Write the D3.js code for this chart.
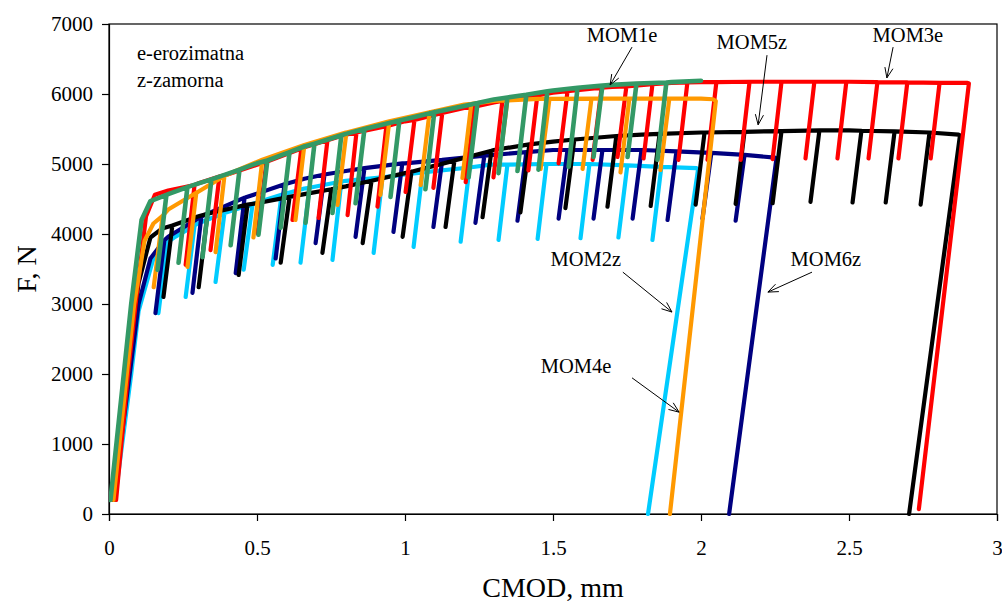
<!DOCTYPE html>
<html><head><meta charset="utf-8">
<script src="https://cdn.jsdelivr.net/npm/d3@7"></script>
<style>
body{margin:0;background:#fff;}
svg{display:block;}
text{font-family:"Liberation Serif","Times New Roman",serif;fill:#000;}
</style>
</head><body>
<svg id="chart" width="1002" height="603"></svg>
<script>
// ---------- data ----------
const xTicks = [0, 0.5, 1, 1.5, 2, 2.5, 3];
const yTicks = [0, 1000, 2000, 3000, 4000, 5000, 6000, 7000];
const xTitle = "CMOD, mm";
const yTitle = "F, N";
const legendLines = ["e-erozimatna", "z-zamorna"];

// envelope points [CMOD, F]
const mom2zEnvelope = [[0.02,200],[0.075,2000],[0.1,2900],[0.15,3650],[0.22,3950],[0.3,4150],[0.5,4450],[0.66,4650],[0.8,4760],[1.0,4850],[1.29,4990],[1.6,5000],[1.985,4940]];
// cycles [CMOD top, F top, CMOD bottom, F bottom]
const mom2zCycles = [[0.197,3880,0.167,2870],[0.289,4120,0.259,3100],[0.390,4300,0.360,3315],[0.485,4430,0.455,3490],[0.583,4560,0.553,3560],[0.677,4660,0.647,3590],[0.785,4750,0.755,3630],[0.924,4810,0.894,3730],[1.059,4880,1.029,3815],[1.218,4950,1.188,3890],[1.346,4990,1.316,3915],[1.478,5000,1.448,3930],[1.623,5000,1.593,3940],[1.751,4980,1.721,3950],[1.866,4960,1.836,3915]];
const mom2zFinal = [[1.99,4920],[1.821,0]];

const mom6zEnvelope = [[0.015,200],[0.07,2000],[0.1,3000],[0.14,3650],[0.2,3960],[0.3,4220],[0.46,4520],[0.66,4790],[0.8,4900],[1.0,5010],[1.3,5130],[1.5,5200],[1.8,5200],[2.03,5160],[2.25,5090]];
const mom6zCycles = [[0.187,3910,0.157,2870],[0.312,4250,0.282,3160],[0.458,4520,0.428,3440],[0.593,4710,0.563,3650],[0.728,4850,0.698,3870],[0.863,4940,0.833,3960],[0.991,5010,0.961,4030],[1.126,5060,1.096,4100],[1.268,5120,1.238,4160],[1.410,5170,1.380,4190],[1.549,5200,1.519,4220],[1.667,5200,1.637,4220],[1.799,5200,1.769,4220],[1.917,5180,1.887,4200],[2.035,5160,2.005,4220],[2.147,5130,2.117,4190]];
const mom6zFinal = [[2.255,5080],[2.095,0]];

const mom5zEnvelope = [[0.015,200],[0.06,2000],[0.1,3300],[0.14,3950],[0.18,4080],[0.3,4250],[0.5,4440],[0.66,4570],[0.8,4680],[1.0,4870],[1.15,5030],[1.3,5200],[1.5,5320],[1.8,5420],[2.0,5450],[2.5,5480],[2.87,5420]];
const mom5zCycles = [[0.214,4120,0.184,3100],[0.333,4290,0.303,3240],[0.468,4420,0.438,3415],[0.610,4530,0.580,3590],[0.751,4640,0.721,3730],[0.887,4760,0.857,3870],[1.022,4890,0.992,3960],[1.167,5050,1.137,4100],[1.292,5190,1.262,4240],[1.420,5280,1.390,4310],[1.572,5350,1.542,4370],[1.714,5400,1.684,4390],[1.860,5430,1.830,4400],[2.012,5450,1.982,4420],[2.147,5460,2.117,4430],[2.272,5470,2.242,4440],[2.400,5480,2.370,4460],[2.542,5475,2.512,4450],[2.654,5465,2.624,4450],[2.772,5450,2.742,4420]];
const mom5zFinal = [[2.875,5410],[2.703,0]];

const mom3eEnvelope = [[0.024,200],[0.064,2000],[0.09,3000],[0.125,4250],[0.155,4560],[0.2,4620],[0.3,4720],[0.4,4850],[0.5,4990],[0.66,5240],[0.8,5420],[1.0,5610],[1.2,5800],[1.3,5880],[1.5,6020],[1.7,6100],[1.9,6160],[2.0,6170],[2.5,6175],[2.9,6160]];
const mom3eCycles = [[0.289,4700,0.259,3560],[0.373,4820,0.343,3770],[0.532,5030,0.502,4010],[0.650,5220,0.620,4200],[0.738,5340,0.708,4230],[0.836,5450,0.806,4270],[0.937,5540,0.907,4390],[1.032,5630,1.002,4600],[1.126,5730,1.096,4660],[1.235,5820,1.205,4740],[1.329,5900,1.299,4810],[1.447,5980,1.417,4910],[1.549,6040,1.519,5010],[1.664,6090,1.634,5060],[1.748,6110,1.718,5100],[1.836,6140,1.806,5080],[1.954,6165,1.924,5060],[2.052,6170,2.022,5060],[2.164,6175,2.134,5060],[2.272,6175,2.242,5070],[2.383,6175,2.353,5080],[2.491,6175,2.461,5080],[2.596,6170,2.566,5080],[2.697,6165,2.667,5080],[2.806,6160,2.776,5080]];
const mom3eFinal = [[2.905,6150],[2.736,70]];

const mom4eEnvelope = [[0.015,200],[0.06,2000],[0.085,3000],[0.12,3900],[0.15,4150],[0.2,4350],[0.3,4600],[0.4,4850],[0.5,5030],[0.66,5270],[0.8,5450],[1.0,5660],[1.2,5850],[1.3,5900],[1.45,5930],[2.0,5935],[2.04,5925]];
const mom4eCycles = [[0.181,4260,0.151,3240],[0.295,4590,0.265,3530],[0.390,4830,0.360,3740],[0.518,5060,0.488,3950],[0.660,5270,0.630,4200],[0.802,5450,0.772,4415],[0.947,5610,0.917,4560],[1.083,5740,1.053,4700],[1.224,5860,1.194,4800],[1.346,5910,1.316,4915],[1.488,5930,1.458,4930],[1.630,5935,1.600,4930],[1.758,5935,1.728,4880],[1.893,5935,1.863,4915]];
const mom4eFinal = [[2.05,5900],[1.895,0]];

const mom1eEnvelope = [[0.005,200],[0.05,2000],[0.075,3000],[0.11,4200],[0.14,4470],[0.2,4570],[0.3,4720],[0.4,4860],[0.5,5010],[0.66,5250],[0.8,5430],[1.0,5640],[1.2,5830],[1.3,5920],[1.5,6050],[1.7,6130],[1.9,6170],[2.0,6190]];
const mom1eCycles = [[0.194,4560,0.164,3490],[0.265,4670,0.235,3590],[0.346,4780,0.316,3670],[0.441,4920,0.411,3840],[0.535,5050,0.505,3990],[0.610,5170,0.580,4090],[0.694,5290,0.664,4160],[0.785,5410,0.755,4300],[0.863,5500,0.833,4440],[0.981,5620,0.951,4530],[1.099,5740,1.069,4640],[1.245,5870,1.215,4810],[1.346,5950,1.316,4870],[1.410,5990,1.380,4900],[1.481,6040,1.451,4920],[1.583,6090,1.553,4960],[1.667,6120,1.637,5100],[1.782,6150,1.752,5100],[1.883,6165,1.853,5060]];
const mom1eFinal = [];

// series in drawing order
const seriesNames = ["MOM2z","MOM6z","MOM5z","MOM3e","MOM4e","MOM1e"];
const seriesColors = ["#00ccff","#000080","#000000","#ff0000","#ff9900","#339966"];
const seriesEnvelopes = [mom2zEnvelope, mom6zEnvelope, mom5zEnvelope, mom3eEnvelope, mom4eEnvelope, mom1eEnvelope];
const seriesCycles = [mom2zCycles, mom6zCycles, mom5zCycles, mom3eCycles, mom4eCycles, mom1eCycles];
const seriesFinals = [mom2zFinal, mom6zFinal, mom5zFinal, mom3eFinal, mom4eFinal, mom1eFinal];

// annotations: label, text anchor [CMOD,F], arrow start, arrow tip
const annLabels = ["MOM1e","MOM5z","MOM3e","MOM2z","MOM6z","MOM4e"];
const annText = [[1.733,6745],[2.172,6645],[2.699,6745],[1.611,3545],[2.422,3545],[1.578,2015]];
const annFrom = [[1.767,6670],[2.223,6555],[2.649,6670],[1.736,3455],[2.375,3455],[1.767,1945]];
const annTo   = [[1.693,6130],[2.193,5560],[2.628,6230],[1.902,2885],[2.226,3170],[1.926,1455]];

// ---------- chart ----------
const svg = d3.select("#chart");
const x = d3.scaleLinear().domain([0,3]).range([109,997]);
const y = d3.scaleLinear().domain([0,7000]).range([514,24]);

// plot frame
svg.append("rect").attr("x",x(0)).attr("y",y(7000))
  .attr("width",x(3)-x(0)).attr("height",y(0)-y(7000))
  .attr("fill","none").attr("stroke","#000").attr("stroke-width",1.2);

const gx = svg.append("g").attr("transform",`translate(0,${y(0)})`)
  .call(d3.axisBottom(x).tickValues(xTicks).tickSize(7).tickPadding(19).tickFormat(d3.format("")));
const gy = svg.append("g").attr("transform",`translate(${x(0)},0)`)
  .call(d3.axisLeft(y).tickValues(yTicks).tickSize(7).tickPadding(9).tickFormat(d3.format("d")));
[gx,gy].forEach(g=>{
  g.select(".domain").attr("stroke","#000").attr("stroke-width",1.2);
  g.selectAll(".tick line").attr("stroke","#000").attr("stroke-width",1.2);
  g.selectAll(".tick text").attr("font-family","Liberation Serif, serif").attr("font-size",21).attr("fill","#000");
});

// build paths
function buildPath(env, cycles, fin){
  const events = env.map(p=>({k:p[0], pts:[p]}))
    .concat(cycles.map(c=>({k:c[0], pts:[[c[0],c[1]],[c[2],c[3]],[c[0],c[1]]]})));
  events.sort((a,b)=>a.k-b.k);
  const pts = [];
  events.forEach(e=>e.pts.forEach(p=>pts.push(p)));
  fin.forEach(p=>pts.push(p));
  return pts;
}
const line = d3.line().x(d=>x(d[0])).y(d=>y(d[1])).curve(d3.curveLinear);
svg.append("defs").append("clipPath").attr("id","clip")
  .append("rect").attr("x",x(0)).attr("y",y(7000)).attr("width",x(3)-x(0)).attr("height",y(0)-y(7000)+3);

const gl = svg.append("g").attr("clip-path","url(#clip)");
seriesNames.forEach((name,i)=>{
  gl.append("path")
    .datum(buildPath(seriesEnvelopes[i], seriesCycles[i], seriesFinals[i]))
    .attr("d", line)
    .attr("fill","none")
    .attr("stroke", seriesColors[i])
    .attr("stroke-width", name==="MOM1e" ? 4.6 : 4.2)
    .attr("stroke-linejoin","round")
    .attr("stroke-linecap","round");
});

// legend text
svg.selectAll("text.leg").data(legendLines).enter().append("text")
  .attr("class","leg")
  .attr("x", x(0)+28).attr("y",(d,i)=>60+i*27)
  .attr("font-size",20.5).text(d=>d);

// annotations
const ga = svg.append("g");
annLabels.forEach((lab,i)=>{
  ga.append("text").attr("x",x(annText[i][0])).attr("y",y(annText[i][1]))
    .attr("text-anchor","middle").attr("font-size",20.5).text(lab);
  const x1=x(annFrom[i][0]), y1=y(annFrom[i][1]), x2=x(annTo[i][0]), y2=y(annTo[i][1]);
  ga.append("line").attr("x1",x1).attr("y1",y1).attr("x2",x2).attr("y2",y2)
    .attr("stroke","#000").attr("stroke-width",1);
  const ang = Math.atan2(y2-y1, x2-x1), L=11, spread=0.38;
  const p1=[x2-L*Math.cos(ang-spread), y2-L*Math.sin(ang-spread)];
  const p2=[x2-L*Math.cos(ang+spread), y2-L*Math.sin(ang+spread)];
  ga.append("path").attr("d",`M${p1[0]},${p1[1]}L${x2},${y2}L${p2[0]},${p2[1]}`)
    .attr("fill","none").attr("stroke","#000").attr("stroke-width",1);
});

// axis titles
svg.append("text").attr("x",(x(0)+x(3))/2).attr("y",597)
  .attr("text-anchor","middle").attr("font-size",28).text(xTitle);
svg.append("text").attr("transform",`translate(36,${(y(0)+y(7000))/2}) rotate(-90)`)
  .attr("text-anchor","middle").attr("font-size",28).text(yTitle);
</script>
</body></html>
